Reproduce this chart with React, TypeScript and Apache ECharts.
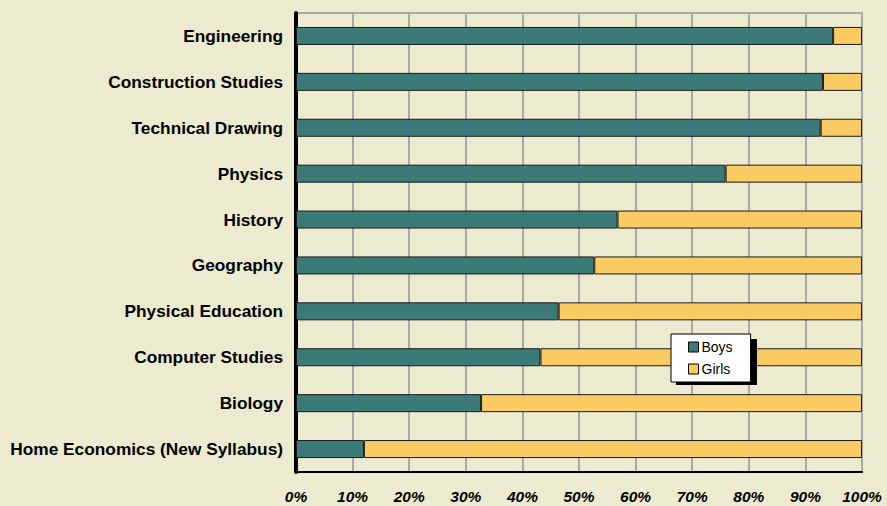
import React, { useEffect, useRef } from "react";
import * as echarts from "echarts";

const subjects = [
  "Engineering",
  "Construction Studies",
  "Technical Drawing",
  "Physics",
  "History",
  "Geography",
  "Physical Education",
  "Computer Studies",
  "Biology",
  "Home Economics (New Syllabus)",
];
const boys = [94.9, 93.1, 92.7, 75.9, 56.8, 52.7, 46.4, 43.2, 32.7, 12.0];
const girls = boys.map((b) => +(100 - b).toFixed(1));
const xTicks = [0, 10, 20, 30, 40, 50, 60, 70, 80, 90, 100];

export default function App() {
  const ref = useRef<HTMLDivElement>(null);
  useEffect(() => {
    const chart = echarts.init(ref.current!, null, { renderer: "svg" });
    const font = "'Liberation Sans', Arial, sans-serif";
    chart.setOption({
      animation: false,
      backgroundColor: "#ECEBCF",
      textStyle: { fontFamily: font },
      grid: {
        left: 296,
        right: 25,
        top: 13,
        bottom: 34,
        show: true,
        borderColor: "#A9A9A9",
        borderWidth: 2,
        backgroundColor: "transparent",
      },
      legend: {
        orient: "vertical",
        left: 671,
        top: 334,
        width: 81,
        padding: [6, 18, 6, 17],
        itemGap: 8,
        itemWidth: 10,
        itemHeight: 10,
        backgroundColor: "#FFFFFF",
        borderColor: "#000000",
        borderWidth: 1,
        borderRadius: 0,
        data: [
          { name: "Boys", icon: "rect", itemStyle: { borderColor: "#000", borderWidth: 1 } },
          { name: "Girls", icon: "rect", itemStyle: { borderColor: "#000", borderWidth: 1 } },
        ],
        textStyle: { fontSize: 14, color: "#000", fontFamily: font, padding: [0, 0, 0, -2] },
        z: 10,
      },
      graphic: [
        {
          type: "rect",
          left: 676,
          top: 339,
          shape: { width: 81, height: 46 },
          style: { fill: "#000" },
          z: 9,
          zlevel: 0,
        },
      ],
      xAxis: {
        type: "value",
        min: 0,
        max: 100,
        interval: 10,
        axisLine: { show: true, lineStyle: { color: "#000", width: 2 } },
        axisTick: { show: false },
        splitLine: { show: true, lineStyle: { color: "#A9A9A9", width: 2 } },
        axisLabel: {
          formatter: (v: number) => (xTicks.includes(v) ? v + "%" : ""),
          fontSize: 15.5,
          fontWeight: "bold",
          fontStyle: "italic",
          color: "#000",
          fontFamily: font,
          margin: 16,
        },
      },
      yAxis: {
        type: "category",
        data: subjects,
        inverse: true,
        axisLine: { show: true, lineStyle: { color: "#000", width: 4 } },
        axisTick: { show: false },
        axisLabel: {
          fontSize: 17.3,
          fontWeight: "bold",
          color: "#000",
          fontFamily: font,
          margin: 13,
        },
      },
      series: [
        {
          name: "Boys",
          type: "bar",
          stack: "total",
          data: boys,
          barWidth: 18,
          itemStyle: { color: "#3B7A76", borderColor: "#1a1a1a", borderWidth: 1 },
        },
        {
          name: "Girls",
          type: "bar",
          stack: "total",
          data: girls,
          barWidth: 18,
          itemStyle: { color: "#FBCB63", borderColor: "#1a1a1a", borderWidth: 1 },
        },
      ],
    });
    return () => chart.dispose();
  }, []);
  return <div ref={ref} style={{ width: 887, height: 506, position: "fixed", left: 0, top: 0 }} />;
}
